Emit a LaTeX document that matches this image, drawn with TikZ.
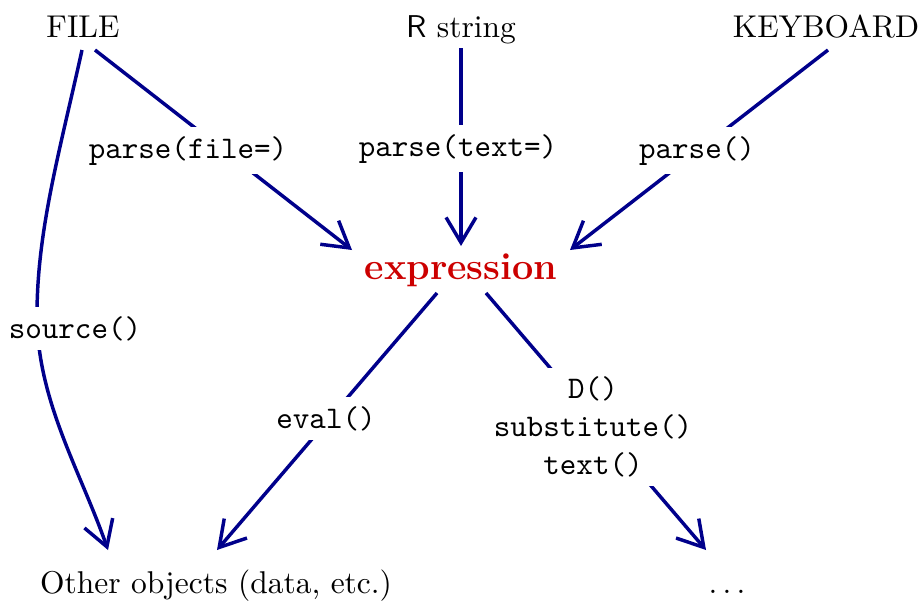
\documentclass[tikz,border=0pt]{standalone}
\usetikzlibrary{arrows.meta}
\definecolor{arrowblue}{RGB}{0,0,139}
\definecolor{exprred}{RGB}{204,0,0}
\begin{document}
\begin{tikzpicture}[x=0.3175pt,y=-0.3175pt,
  arr/.style={draw=arrowblue, line width=1.1pt, -{Straight Barb[length=8pt,width=9.5pt]}},
  lbl/.style={fill=white, font=\ttfamily, inner sep=3pt, anchor=base},
  txt/.style={anchor=base, inner sep=3pt}]
\useasboundingbox (0,0) rectangle (923,603);

% sources
\node[txt] (file) at (83,37) {FILE};
\node[txt] (rstr) at (461,37) {\textsf{R} string};
\node[txt] (kbd) at (826,37) {KEYBOARD};
\node[txt, font=\large\bfseries, text=exprred] (expr) at (461,279) {expression};
\node[txt] (other) at (216,593) {Other objects (data, etc.)};
\node[txt] (dots) at (727,593) {$\ldots$};

% connector end points
\coordinate (fileA) at (95,50);
\coordinate (fileB) at (82,50);
\coordinate (rstrA) at (461,48);
\coordinate (kbdA) at (828,50);
\coordinate (exprIn1) at (352,250);
\coordinate (exprIn2) at (461,246);
\coordinate (exprIn3) at (570,250);
\coordinate (exprOut1) at (437,293);
\coordinate (exprOut2) at (486,293);
\coordinate (otherIn1) at (108,550);
\coordinate (otherIn2) at (217,550);
\coordinate (dotsIn) at (706,550);
\coordinate (srcMid) at (37,315);

% connectors
\draw[arr] (fileA) -- (exprIn1);
\draw[arr] (rstrA) -- (exprIn2);
\draw[arr] (kbdA) -- (exprIn3);
\draw[arr] (fileB) .. controls (60,150) and (37,230) .. (srcMid)
  .. controls (37,400) and (80,470) .. (otherIn1);
\draw[arr] (exprOut1) -- (otherIn2);
\draw[arr] (exprOut2) -- (dotsIn);

% labels
\node[lbl] (lfile) at (188,158) {parse(file=)};
\node[lbl] (ltext) at (458,156) {parse(text=)};
\node[lbl] (lkbd) at (697,158) {parse()};
\node[lbl] (lsrc) at (75,338) {source()};
\node[lbl] (leval) at (326,428) {eval()};
\node[fill=white, font=\ttfamily, inner sep=3pt, align=center] (ldsub) at (593,427) {D()\\substitute()\\text()};
\end{tikzpicture}
\end{document}
